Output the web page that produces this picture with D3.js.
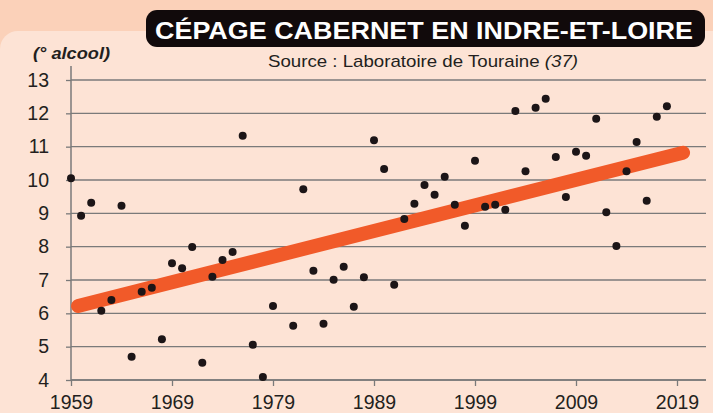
<!DOCTYPE html>
<html>
<head>
<meta charset="utf-8">
<script src="https://cdn.jsdelivr.net/npm/d3@7"></script>
<style>
    html, body { margin: 0; padding: 0; background: #fbd1b9; }
    svg { display: block; }
    text { font-family: "Liberation Sans", Arial, sans-serif; fill: #231f20; }
</style>
</head>
<body>
<svg id="chart" width="713" height="413"></svg>
<script>
// values (no value for 1980)
let years = [
    1959, 1960, 1961, 1962, 1963, 1964, 1965, 1966, 1967, 1968,
    1969, 1970, 1971, 1972, 1973, 1974, 1975, 1976, 1977, 1978,
    1979, 1981, 1982, 1983, 1984, 1985, 1986, 1987, 1988,
    1989, 1990, 1991, 1992, 1993, 1994, 1995, 1996, 1997, 1998,
    1999, 2000, 2001, 2002, 2003, 2004, 2005, 2006, 2007, 2008,
    2009, 2010, 2011, 2012, 2013, 2014, 2015, 2016, 2017, 2018
];
let alcohol = [
    10.05, 8.93, 9.32, 6.08, 6.40, 9.23, 4.70, 6.65, 6.77, 5.22,
    7.50, 7.35, 7.99, 4.52, 7.10, 7.60, 7.84, 11.33, 5.06, 4.09,
    6.22, 5.63, 9.72, 7.28, 5.69, 7.01, 7.40, 6.20, 7.08,
    11.19, 10.33, 6.86, 8.83, 9.29, 9.85, 9.56, 10.10, 9.26, 8.63,
    10.58, 9.20, 9.26, 9.11, 12.07, 10.26, 12.17, 12.44, 10.69, 9.49,
    10.85, 10.73, 11.84, 9.03, 8.02, 10.26, 11.14, 9.38, 11.90, 12.21
];
// trend line end points
let trendYears = [1959.7, 2019.6];
let trendValues = [6.22, 10.82];

let xTicks = [1959, 1969, 1979, 1989, 1999, 2009, 2019];
let yTicks = [4, 5, 6, 7, 8, 9, 10, 11, 12, 13];

let svg = d3.select('#chart');
let plot = {left: 71, right: 706, top: 80, bottom: 380};

// light panel behind the chart
svg.append('rect')
    .attr('x', 0).attr('y', 31)
    .attr('width', 760).attr('height', 420)
    .attr('rx', 18)
    .attr('fill', '#fde3d5');

// title box
svg.append('rect')
    .attr('x', 146).attr('y', 10)
    .attr('width', 559).attr('height', 37)
    .attr('rx', 11)
    .attr('fill', '#110a0b');

svg.append('text')
    .attr('x', 155).attr('y', 38.5)
    .attr('textLength', 538)
    .attr('lengthAdjust', 'spacingAndGlyphs')
    .style('font-family', '"Liberation Sans Narrow", "Liberation Sans", Arial, sans-serif')
    .style('font-weight', 'bold')
    .style('font-size', '24.5px')
    .style('fill', '#ffffff')
    .text('CÉPAGE CABERNET EN INDRE-ET-LOIRE');

let source = svg.append('text')
    .attr('x', 268).attr('y', 67)
    .attr('textLength', 310)
    .attr('lengthAdjust', 'spacingAndGlyphs')
    .style('font-size', '17px');
source.append('tspan').text('Source : Laboratoire de Touraine ');
source.append('tspan').style('font-style', 'italic').text('(37)');

svg.append('text')
    .attr('x', 33).attr('y', 59)
    .attr('textLength', 77)
    .attr('lengthAdjust', 'spacingAndGlyphs')
    .style('font-size', '17px')
    .style('font-style', 'italic')
    .style('font-weight', 'bold')
    .text('(° alcool)');

let xScale = d3.scaleLinear()
    .domain([1959, 2019])
    .range([71, 677]);

let yScale = d3.scaleLinear()
    .domain([4, 13])
    .range([plot.bottom, plot.top]);

// horizontal grid
svg.append('g')
    .selectAll('line')
    .data(yTicks)
    .join('line')
    .attr('x1', plot.left)
    .attr('x2', plot.right)
    .attr('y1', d => yScale(d))
    .attr('y2', d => yScale(d))
    .attr('stroke', '#7a7a7a')
    .attr('stroke-width', 1.3);

// y axis
let yAxis = d3.axisLeft(yScale)
    .tickValues(yTicks)
    .tickSize(5)
    .tickPadding(17)
    .tickFormat(d3.format('d'));

let yG = svg.append('g')
    .attr('transform', `translate(${plot.left}, 0)`)
    .call(yAxis);
yG.select('.domain').remove();
yG.append('line')
    .attr('x1', 0).attr('x2', 0)
    .attr('y1', 66).attr('y2', plot.bottom)
    .attr('stroke', '#7a7a7a')
    .attr('stroke-width', 1.5);

// x axis
let xAxis = d3.axisBottom(xScale)
    .tickValues(xTicks)
    .tickSize(6)
    .tickPadding(9)
    .tickFormat(d3.format('d'));

let xG = svg.append('g')
    .attr('transform', `translate(0, ${plot.bottom})`)
    .call(xAxis);
xG.select('.domain').remove();
xG.append('line')
    .attr('x1', plot.left).attr('x2', plot.right)
    .attr('y1', 0).attr('y2', 0)
    .attr('stroke', '#7a7a7a')
    .attr('stroke-width', 1.5);

[yG, xG].forEach(g => {
    g.selectAll('.tick line').attr('stroke', '#7a7a7a').attr('stroke-width', 1.3);
    g.selectAll('.tick text')
        .style('font-family', '"Liberation Sans", Arial, sans-serif')
        .style('font-size', '19.5px')
        .attr('fill', '#231f20');
});

// trend line
let trend = trendYears.map((y, i) => [y, trendValues[i]]);
svg.append('path')
    .datum(trend)
    .attr('fill', 'none')
    .attr('stroke', '#f15a29')
    .attr('stroke-width', 14)
    .attr('stroke-linecap', 'round')
    .attr('d', d3.line()
        .x(d => xScale(d[0]))
        .y(d => yScale(d[1])));

// yearly points
svg.append('g')
    .selectAll('circle')
    .data(years)
    .join('circle')
    .attr('cx', d => xScale(d))
    .attr('cy', (d, i) => yScale(alcohol[i]))
    .attr('r', 4)
    .attr('fill', '#1c1517');
</script>
</body>
</html>
